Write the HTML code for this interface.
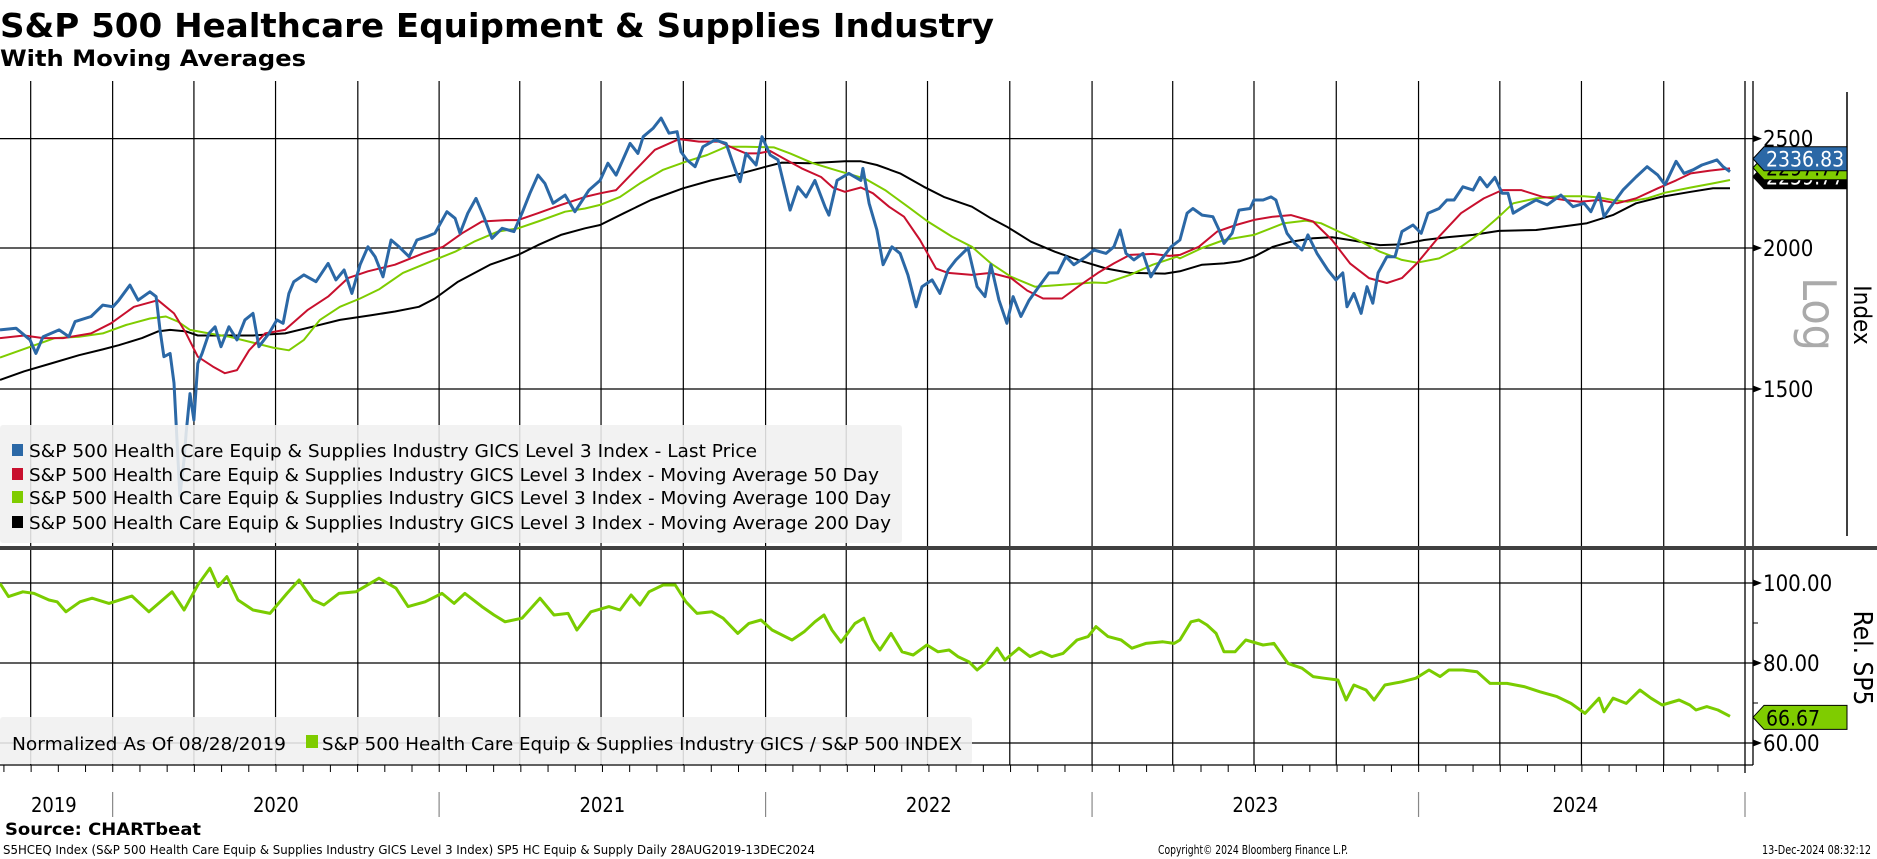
<!DOCTYPE html>
<html><head><meta charset="utf-8"><style>
html,body{margin:0;padding:0;background:#fff;}
svg{display:block;font-family:"DejaVu Sans Condensed","DejaVu Sans","Liberation Sans",sans-serif;}
</style></head><body>
<svg id="chart" width="1877" height="859" viewBox="0 0 1877 859" xmlns="http://www.w3.org/2000/svg">
<defs>
<clipPath id="clipTop"><rect x="0" y="81" width="1745" height="465"/></clipPath>
<clipPath id="clipBot"><rect x="0" y="551" width="1745" height="214"/></clipPath>
</defs>
<text x="0" y="37" font-size="33" font-weight="bold" textLength="994" lengthAdjust="spacingAndGlyphs">S&amp;P 500 Healthcare Equipment &amp; Supplies Industry</text>
<text x="0" y="66" font-size="22" font-weight="bold" textLength="306" lengthAdjust="spacingAndGlyphs">With Moving Averages</text>
<g id="grid"></g>
<g id="series"></g>
<g id="axes"></g>
<g id="legendTop">
<rect x="0" y="425" width="902" height="118" rx="3" fill="rgba(240,240,240,0.88)"/>
<rect x="12" y="444" width="11" height="12" fill="#2b68a6"/>
<text x="29" y="457" font-size="18" textLength="728" lengthAdjust="spacingAndGlyphs">S&amp;P 500 Health Care Equip &amp; Supplies Industry GICS Level 3 Index - Last Price</text>
<rect x="12" y="468" width="11" height="12" fill="#c8102e"/>
<text x="29" y="481" font-size="18" textLength="850" lengthAdjust="spacingAndGlyphs">S&amp;P 500 Health Care Equip &amp; Supplies Industry GICS Level 3 Index - Moving Average 50 Day</text>
<rect x="12" y="491" width="11" height="12" fill="#7fcc00"/>
<text x="29" y="504" font-size="18" textLength="862" lengthAdjust="spacingAndGlyphs">S&amp;P 500 Health Care Equip &amp; Supplies Industry GICS Level 3 Index - Moving Average 100 Day</text>
<rect x="12" y="516" width="11" height="12" fill="#000"/>
<text x="29" y="529" font-size="18" textLength="862" lengthAdjust="spacingAndGlyphs">S&amp;P 500 Health Care Equip &amp; Supplies Industry GICS Level 3 Index - Moving Average 200 Day</text>
</g>
<g id="legendBot">
<rect x="0" y="717" width="972" height="47" rx="3" fill="rgba(240,240,240,0.88)"/>
<text x="12" y="750" font-size="18" textLength="274" lengthAdjust="spacingAndGlyphs">Normalized As Of 08/28/2019</text>
<rect x="306" y="735" width="12" height="13" fill="#7fcc00"/>
<text x="322" y="750" font-size="18" textLength="640" lengthAdjust="spacingAndGlyphs">S&amp;P 500 Health Care Equip &amp; Supplies Industry GICS / S&amp;P 500 INDEX</text>
</g>
<rect x="0" y="546" width="1877" height="4" fill="#404040"/>
<text transform="translate(1803,314) rotate(90)" font-size="46" fill="#aaaaaa" text-anchor="middle">Log</text>
<text transform="translate(1854,315) rotate(90)" font-size="24" text-anchor="middle">Index</text>
<text transform="translate(1854,658) rotate(90)" font-size="26" text-anchor="middle">Rel. SP5</text>
<line x1="1847" y1="92" x2="1847" y2="536" stroke="#000" stroke-width="1.5"/>
<g id="labels"></g>
<text x="5" y="835" font-size="17" font-weight="bold" textLength="196" lengthAdjust="spacingAndGlyphs">Source: CHARTbeat</text>
<text x="3" y="854" font-size="12" textLength="812" lengthAdjust="spacingAndGlyphs">S5HCEQ Index (S&amp;P 500 Health Care Equip &amp; Supplies Industry GICS Level 3 Index) SP5 HC Equip &amp; Supply  Daily 28AUG2019-13DEC2024</text>
<text x="1158" y="854" font-size="12" textLength="190" lengthAdjust="spacingAndGlyphs">Copyright© 2024 Bloomberg Finance L.P.</text>
<text x="1762" y="854" font-size="12" textLength="109" lengthAdjust="spacingAndGlyphs">13-Dec-2024 08:32:12</text>
</svg>
<script>
const priceT=[2019.655,2019.704,2019.747,2019.765,2019.787,2019.836,2019.866,2019.885,2019.934,2019.970,2020.001,2020.019,2020.053,2020.078,2020.114,2020.133,2020.145,2020.157,2020.176,2020.188,2020.206,2020.219,2020.225,2020.237,2020.249,2020.261,2020.274,2020.295,2020.314,2020.332,2020.356,2020.381,2020.405,2020.430,2020.448,2020.479,2020.503,2020.522,2020.540,2020.555,2020.586,2020.623,2020.660,2020.684,2020.709,2020.733,2020.758,2020.782,2020.804,2020.828,2020.853,2020.877,2020.908,2020.932,2020.963,2020.987,2021.024,2021.049,2021.064,2021.088,2021.113,2021.137,2021.162,2021.193,2021.229,2021.254,2021.278,2021.303,2021.324,2021.349,2021.386,2021.416,2021.459,
2021.493,2021.517,2021.542,2021.585,2021.609,2021.625,2021.655,2021.680,2021.704,2021.729,2021.741,2021.759,2021.784,2021.808,2021.845,2021.879,2021.909,2021.922,2021.940,2021.971,2021.989,2022.014,2022.038,2022.075,2022.099,2022.124,2022.151,2022.182,2022.194,2022.219,2022.255,2022.292,2022.298,2022.317,2022.341,2022.360,2022.387,2022.412,2022.436,2022.461,2022.479,2022.510,2022.534,2022.559,2022.583,2022.620,2022.648,2022.672,2022.690,2022.715,2022.739,2022.758,2022.782,2022.807,2022.837,2022.868,2022.895,2022.920,2022.944,2022.981,2023.006,2023.043,2023.067,2023.086,2023.104,2023.128,2023.156,2023.180,2023.211,2023.242,
2023.269,2023.291,2023.309,2023.337,2023.370,2023.389,2023.404,2023.429,2023.450,2023.484,2023.496,2023.524,2023.548,2023.563,2023.576,2023.597,2023.621,2023.643,2023.661,2023.689,2023.722,2023.747,2023.768,2023.781,2023.802,2023.824,2023.842,2023.860,2023.876,2023.903,2023.928,2023.949,2023.983,2024.008,2024.029,2024.063,2024.087,2024.109,2024.136,2024.167,2024.188,2024.210,2024.234,2024.256,2024.274,2024.290,2024.323,2024.360,2024.394,2024.436,2024.473,2024.507,2024.528,2024.553,2024.568,2024.589,2024.626,2024.666,2024.700,2024.733,2024.755,2024.789,2024.813,2024.841,2024.868,2024.902,2024.914,2024.933,2024.954];
const priceV=[1692,1698,1658,1613,1669,1692,1669,1721,1739,1780,1774,1798,1854,1798,1829,1811,1692,1602,1613,1518,1206,1300,1370,1486,1408,1580,1613,1680,1703,1635,1703,1658,1727,1750,1635,1680,1727,1715,1823,1867,1893,1867,1938,1874,1912,1823,1933,2005,1965,1886,2033,2005,1965,2033,2047,2061,2154,2125,2061,2147,2213,2132,2040,2082,2068,2147,2236,2321,2282,2191,2228,2154,2251,
2296,2378,2321,2476,2426,2510,2553,2607,2528,2536,2434,2394,2361,2459,2493,2476,2337,2290,2426,2369,2510,2418,2394,2161,2266,2220,2296,2176,2139,2296,2329,2296,2353,2191,2075,1933,2005,1978,1893,1774,1848,1874,1823,1912,1952,2000,1848,1811,1933,1798,1715,1811,1739,1798,1848,1901,1901,1965,1933,1965,1992,1978,2005,2075,1978,1952,1978,1886,1952,2005,
2033,2147,2168,2139,2132,2075,2019,2061,2161,2168,2206,2206,2220,2206,2147,2061,2019,1992,2054,1978,1912,1874,1901,1774,1823,1750,1848,1787,1901,1965,1965,2068,2096,2061,2147,2168,2206,2206,2266,2251,2310,2266,2310,2236,2236,2147,2176,2206,2184,2228,2176,2191,2154,2236,2132,2176,2251,2312,2361,2321,2276,2387,2329,2346,2369,2387,2394,2361,2336.83];
const ma50T=[2019.655,2019.729,2019.787,2019.848,2019.934,2019.995,2020.065,2020.139,2020.188,2020.225,2020.261,2020.307,2020.344,2020.381,2020.418,2020.467,2020.528,2020.598,2020.660,2020.721,2020.782,2020.865,2020.951,2021.012,2021.070,2021.131,2021.205,2021.242,2021.303,2021.373,2021.447,
2021.493,2021.542,2021.591,2021.661,2021.735,2021.796,2021.857,2021.903,2021.940,2021.977,2022.014,2022.063,2022.111,2022.170,2022.206,2022.243,2022.292,2022.329,2022.378,2022.424,2022.473,2022.522,2022.559,2022.632,2022.690,2022.752,2022.801,2022.850,2022.908,2022.957,2023.018,2023.067,2023.116,2023.186,2023.236,
2023.269,2023.327,2023.383,2023.441,2023.496,2023.554,2023.609,2023.677,2023.735,2023.790,2023.848,2023.903,2023.949,2023.995,2024.063,2024.130,2024.200,2024.256,2024.314,2024.381,2024.448,2024.494,2024.553,2024.608,2024.666,2024.733,2024.789,2024.834,2024.893,2024.954];
const ma50V=[1664,1673,1664,1664,1680,1715,1774,1798,1750,1680,1602,1570,1549,1559,1623,1680,1692,1763,1811,1881,1907,1933,1978,2005,2061,2111,2117,2117,2147,2184,2220,
2236,2251,2329,2444,2498,2485,2485,2451,2426,2426,2438,2394,2353,2312,2263,2243,2263,2236,2176,2132,2033,1918,1901,1893,1901,1881,1834,1804,1804,1848,1901,1938,1972,1976,1968,
1972,2005,2068,2096,2118,2132,2139,2111,2033,1938,1881,1862,1881,1938,2047,2147,2213,2251,2251,2220,2206,2198,2206,2191,2213,2259,2296,2329,2342,2353];
const ma100T=[2019.655,2019.741,2019.823,2019.897,2019.970,2020.041,2020.114,2020.163,2020.200,2020.237,2020.295,2020.356,2020.430,2020.491,2020.540,2020.586,2020.635,2020.696,2020.758,2020.816,2020.889,2020.975,2021.049,2021.107,2021.180,2021.242,2021.303,2021.386,2021.447,
2021.493,2021.554,2021.615,2021.686,2021.759,2021.821,2021.879,2021.940,2022.026,2022.075,2022.145,2022.219,2022.305,2022.366,2022.436,2022.497,2022.571,2022.632,2022.690,2022.752,2022.825,2022.895,2023.004,2023.043,2023.116,2023.186,2023.260,
2023.269,2023.337,2023.404,2023.496,2023.588,2023.655,2023.701,2023.756,2023.814,2023.882,2023.949,2023.995,2024.063,2024.130,2024.188,2024.246,2024.290,2024.360,2024.427,2024.507,2024.553,2024.595,2024.641,2024.700,2024.755,2024.834,2024.902,2024.954];
const ma100V=[1599,1632,1664,1669,1680,1709,1732,1739,1721,1692,1680,1669,1649,1632,1623,1658,1727,1774,1804,1838,1901,1946,1985,2026,2068,2082,2111,2154,2168,
2184,2220,2282,2346,2387,2418,2459,2459,2456,2426,2378,2342,2304,2251,2176,2111,2047,2005,1938,1886,1848,1854,1864,1862,1893,1933,1965,
1958,2000,2033,2054,2104,2115,2104,2068,2033,1985,1952,1941,1958,2005,2061,2132,2191,2213,2223,2223,2217,2206,2198,2213,2239,2263,2282,2297.77];
const ma200T=[2019.655,2019.729,2019.811,2019.897,2019.970,2020.019,2020.090,2020.139,2020.176,2020.225,2020.261,2020.332,2020.430,2020.528,2020.611,2020.696,2020.794,2020.865,2020.938,2020.987,2021.058,2021.156,2021.242,2021.303,2021.373,2021.447,
2021.493,2021.566,2021.649,2021.747,2021.833,2021.916,2022.001,2022.050,2022.133,2022.243,2022.292,2022.341,2022.412,2022.485,2022.546,2022.632,2022.690,2022.739,2022.813,2022.886,2022.957,2023.043,2023.116,2023.223,
2023.269,2023.337,2023.404,2023.450,2023.496,2023.554,2023.609,2023.677,2023.735,2023.790,2023.836,2023.882,2023.949,2024.017,2024.087,2024.167,2024.246,2024.360,2024.448,2024.516,2024.595,2024.666,2024.743,2024.834,2024.902,2024.954];
const ma200V=[1528,1555,1580,1607,1626,1640,1664,1687,1692,1687,1673,1673,1673,1680,1703,1727,1744,1757,1774,1804,1867,1933,1972,2012,2054,2082,
2096,2147,2206,2259,2296,2325,2361,2381,2378,2387,2387,2369,2329,2266,2220,2176,2125,2089,2026,1985,1952,1918,1901,1898,
1907,1933,1938,1946,1965,2005,2026,2040,2044,2033,2022,2012,2015,2033,2044,2054,2071,2075,2091,2104,2139,2191,2220,2243,2259,2259.77];
const relT=[2019.655,2019.681,2019.725,2019.759,2019.805,2019.830,2019.857,2019.900,2019.937,2019.989,2020.059,2020.111,2020.182,2020.219,2020.261,2020.298,2020.323,2020.350,2020.384,2020.430,2020.482,2020.534,2020.571,2020.614,2020.647,2020.693,2020.745,2020.816,2020.868,2020.905,2020.957,2021.009,2021.046,2021.079,2021.131,2021.168,2021.202,2021.254,2021.309,2021.352,2021.395,2021.422,2021.465,2021.520,2021.554,2021.588,2021.615,2021.643,2021.686,2021.723,2021.756,2021.790,2021.836,2021.870,2021.915,2021.949,2021.986,2022.020,2022.081,2022.118,2022.151,2022.179,2022.203,2022.231,2022.274,2022.301,2022.329,
2022.350,2022.384,2022.418,2022.452,2022.494,2022.528,2022.562,2022.589,2022.623,2022.648,2022.672,2022.709,2022.733,2022.776,2022.810,2022.844,2022.877,2022.911,2022.954,2022.988,2023.012,2023.049,2023.089,2023.122,2023.165,2023.217,2023.251,2023.269,2023.303,2023.327,2023.352,2023.380,2023.404,2023.438,2023.471,2023.524,2023.557,2023.600,2023.643,2023.677,2023.710,2023.753,2023.778,2023.802,2023.839,2023.864,2023.897,2023.949,2023.992,2024.032,2024.066,2024.093,2024.136,2024.179,2024.219,2024.271,2024.323,2024.372,2024.424,2024.467,2024.510,2024.553,2024.568,2024.596,2024.636,2024.678,2024.712,2024.746,2024.798,2024.831,2024.850,2024.883,2024.917,2024.954];
const relV=[99.9,96.6,97.8,97.4,95.75,95.3,92.8,95.3,96.2,94.9,96.75,92.8,97.8,93.25,99.5,103.7,99.1,101.6,95.75,93.25,92.4,97.4,100.75,95.75,94.5,97.4,97.8,101.2,98.7,94.1,95.3,97.4,94.9,97.4,94.1,92,90.3,91.2,96.2,92,92.4,88.25,92.8,94.1,93.25,97,94.5,97.8,99.5,99.5,95.3,92.4,92.8,91.2,87.4,89.9,90.75,88.25,85.75,87.8,90.3,92,88.25,85.2,89.9,91.2,85.75,
83.25,87.4,82.8,82,84.5,82.8,83.25,81.6,80.3,78.25,79.9,83.7,80.75,83.7,81.6,82.8,81.6,82.4,85.75,86.6,89.1,86.6,85.75,83.7,84.9,85.3,84.9,85.75,90.3,90.75,89.5,87.4,82.8,82.8,85.75,84.5,84.9,79.9,78.7,76.6,76.2,75.75,70.75,74.5,73.25,70.75,74.5,75.3,76.2,78.25,76.6,78.25,78.25,77.8,74.9,74.9,74.1,72.8,71.6,69.9,67.4,71.2,67.8,71.2,69.9,73.25,71.2,69.5,70.75,69.5,68.25,69.1,68.25,66.67];
const topTicks=[1500,2000,2500];
const topTickLabels=["1500","2000","2500"];
const botTicks=[60,80,100];
const botTickLabels=["60.00","80.00","100.00"];
const botMinor=[70,90];
const yearLabels=["2019","2020","2021","2022","2023","2024"];
const yearLabelT=[2019.82,2020.5,2021.5,2022.5,2023.5,2024.48];
const yearBounds=[2020.0,2021.0,2022.0,2023.0,2024.0,2025.0];
const quarterT=[2019.749,2020.0,2020.249,2020.499,2020.751,2021.0,2021.247,2021.496,2021.748,2022.0,2022.247,2022.496,2022.748,2023.0,2023.247,2023.496,2023.748,2024.0,2024.249,2024.499,2024.751];

const NS="http://www.w3.org/2000/svg";
const T0=2019.655,T1=2024.954,XW=1730;
function xs(t){return (t-T0)/(T1-T0)*XW;}
function yTop(v){return 248-490*Math.log(v/2000);}
function yBot(v){return 583+(100-v)*4;}
function mk(tag,attrs,parent){const e=document.createElementNS(NS,tag);for(const k in attrs)e.setAttribute(k,attrs[k]);parent.appendChild(e);return e;}
const grid=document.getElementById('grid'),series=document.getElementById('series'),axes=document.getElementById('axes'),labels=document.getElementById('labels');

quarterT.forEach(q=>{const x=xs(q);
 let l=mk('line',{x1:x,y1:81,x2:x,y2:546,stroke:'#000','stroke-width':1.2},grid);
 
 
 let l2=mk('line',{x1:x,y1:550,x2:x,y2:765,stroke:'#000','stroke-width':1.2},grid);
 
 
});
topTicks.forEach((v,i)=>{const y=yTop(v);
 let l=mk('line',{x1:0,y1:y,x2:1753,y2:y,stroke:'#000','stroke-width':1.2},grid);
 
 
 let p=mk('path',{d:`M1753 ${y-3.5}L1762 ${y}L1753 ${y+3.5}Z`,fill:'#000'},axes);
 
 
 let t=mk('text',{x:1763,y:y+8,'font-size':22},axes);t.textContent=topTickLabels[i];
 
 
});
botTicks.forEach((v,i)=>{const y=yBot(v);
 let l=mk('line',{x1:0,y1:y,x2:1753,y2:y,stroke:'#000','stroke-width':1.2},grid);
 
 
 let p=mk('path',{d:`M1753 ${y-3.5}L1762 ${y}L1753 ${y+3.5}Z`,fill:'#000'},axes);
 
 
 let t=mk('text',{x:1763,y:y+8,'font-size':22},axes);t.textContent=botTickLabels[i];
 
 
});
botMinor.forEach(v=>{const y=yBot(v);
 let l=mk('line',{x1:1753,y1:y,x2:1758,y2:y,stroke:'#000','stroke-width':1},axes);
 
 
});
[[1745,81,1745,773],[1753,81,1753,765],[0,765,1753,765]].forEach(c=>{
 let l=mk('line',{x1:c[0],y1:c[1],x2:c[2],y2:c[3],stroke:'#000','stroke-width':1.3},axes);
 
 
});
for(let m=0;m<64;m++){const t=2019.667+m/12;if(t>T1+0.05)break;const x=xs(t);
 let l=mk('line',{x1:x,y1:765,x2:x,y2:772,stroke:'#000','stroke-width':1},axes);
 
 
}
yearBounds.forEach(b=>{const x=Math.min(xs(b),1745);
 let l=mk('line',{x1:x,y1:792,x2:x,y2:817,stroke:'#888','stroke-width':1.2},axes);
 
 
});
yearLabels.forEach((s,i)=>{
 let t=mk('text',{x:xs(yearLabelT[i]),y:812,'font-size':20,'text-anchor':'middle'},axes);t.textContent=s;
 
 
});
function line(T,V,yf,color,w,clip,name){
 const d=T.map((t,i)=>(i?'L':'M')+xs(t).toFixed(1)+' '+yf(V[i]).toFixed(1)).join('');
 let p=mk('path',{d:d,fill:'none',stroke:color,'stroke-width':w,'stroke-linejoin':'round','clip-path':`url(#${clip})`},series);
 
 
}
line(ma200T,ma200V,yTop,'#000',2,'clipTop','ma200-line');
line(ma100T,ma100V,yTop,'#7fcc00',2,'clipTop','ma100-line');
line(ma50T,ma50V,yTop,'#c8102e',2,'clipTop','ma50-line');
line(priceT,priceV,yTop,'#2b68a6',3,'clipTop','price-line');
line(relT,relV,yBot,'#7acc00',3,'clipBot','relative-line');

function tag(y,fill,color,name,txt){
 let g=mk('g',{},labels);
 
 
 mk('path',{d:`M1753 ${y}L1764 ${y-12}L1847 ${y-12}L1847 ${y+12}L1764 ${y+12}Z`,fill:fill,stroke:'#000','stroke-width':1},g);
 let t=mk('text',{x:1766,y:y+8,'font-size':21,fill:color},g);t.textContent=txt;
}
const pLast=priceV[priceV.length-1];
const pY=yTop(pLast)-13;
tag(pY+18,'#000','#fff','ma200-last-label',ma200V[ma200V.length-1].toFixed(2));
tag(pY+9,'#7fcc00','#000','ma100-last-label',ma100V[ma100V.length-1].toFixed(2));
tag(pY,'#2b68a6','#fff','price-last-label',pLast.toFixed(2));
tag(yBot(relV[relV.length-1])+1,'#7fcc00','#000','relative-last-label',relV[relV.length-1].toFixed(2));
</script>
</body></html>
